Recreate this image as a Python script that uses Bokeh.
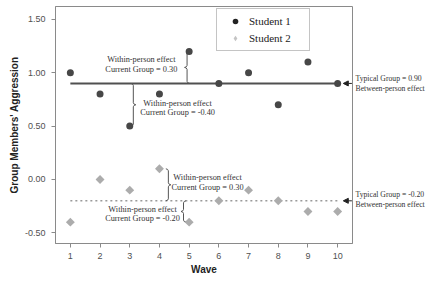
import numpy as np
from bokeh.plotting import figure
from bokeh.models import (Label, Arrow, NormalHead, Legend, LegendItem, Range1d, LinearAxis,
                          FixedTicker, NumeralTickFormatter, CustomJSTickFormatter)
from bokeh.embed import file_html
from bokeh.resources import INLINE

# ---- data ----
waves = [1, 2, 3, 4, 5, 6, 7, 8, 9, 10]
student1 = [1.00, 0.80, 0.50, 0.80, 1.20, 0.90, 1.00, 0.70, 1.10, 0.90]
student2 = [-0.40, 0.00, -0.10, 0.10, -0.40, -0.20, -0.10, -0.20, -0.30, -0.30]
series_names = ["Student 1", "Student 2"]
typical = [0.90, -0.20]
within_student = [0, 0, 1, 1]       # which student
within_wave = [5, 3, 4, 5]          # which wave
y_ticks = [-0.5, 0.0, 0.5, 1.0, 1.5]
x_ticks = waves

series = [student1, student2]

SERIF = "Liberation Serif"
SANS = "Liberation Sans"

px_x = 1 / 29.7
px_y = 1 / 106.7

p = figure(width=429, height=283,
           x_range=Range1d(0.5, 10.5), y_range=Range1d(-0.600, 1.621),
           output_backend="svg", toolbar_location=None,
           min_border_left=55, min_border_right=77, min_border_top=6, min_border_bottom=40)
p.background_fill_color = "white"
p.border_fill_color = "white"
p.outline_line_color = "#8a8a8a"
p.outline_line_width = 1
p.xgrid.visible = False
p.ygrid.visible = False

for ax in (p.xaxis[0], p.yaxis[0]):
    ax.axis_line_color = "#8a8a8a"
    ax.major_tick_line_color = "#8a8a8a"
    ax.major_tick_in = 0
    ax.major_tick_out = 4
    ax.minor_tick_line_color = None
    ax.major_label_text_font = SANS
    ax.major_label_text_font_size = "9px"
    ax.major_label_text_color = "#505050"
    ax.axis_label_text_font = SANS
    ax.axis_label_text_font_size = "10px"
    ax.axis_label_text_font_style = "bold"
    ax.axis_label_text_color = "#222222"

p.xaxis.ticker = FixedTicker(ticks=x_ticks)
p.yaxis.ticker = FixedTicker(ticks=y_ticks)
p.yaxis.formatter = NumeralTickFormatter(format="0.00")
p.xaxis.axis_label = "Wave"
p.yaxis.axis_label = "Group Members' Aggression"
p.xaxis.major_label_standoff = 5
p.xaxis.axis_label_standoff = 2
p.yaxis.major_label_standoff = 6
p.yaxis.axis_label_standoff = 2

# typical-group lines
p.line([waves[0], waves[-1]], [typical[0], typical[0]], line_color="#505050", line_width=2)
p.line([waves[0], waves[-1]], [typical[1], typical[1]], line_color="#9a9a9a", line_width=1.5,
       line_dash="2 3")

# small legend markers (hidden beneath the main markers)
leg1 = p.scatter(waves, student1, marker="circle", size=4, fill_color="#222222", line_color=None)
leg2 = p.scatter(waves, student2, marker="diamond", size=6,
                 fill_color="#c4c4c4", line_color=None)

# braces
brace_x = [4.93, 3.12, 4.30, 4.81]
brace_dir = [-1, 1, 1, -1]
for k in range(len(within_wave)):
    s = within_student[k]
    w = within_wave[k]
    yv = series[s][waves.index(w)]
    ym = typical[s]
    lo, hi = min(yv, ym), max(yv, ym)
    mid = (lo + hi) / 2
    bx = brace_x[k]
    d = brace_dir[k]
    h = 2.5
    xs = [bx - d * h * px_x, bx - d * 0.8 * px_x, bx, bx, bx + d * 0.8 * px_x, bx + d * h * px_x,
          bx + d * 0.8 * px_x, bx, bx, bx - d * 0.8 * px_x, bx - d * h * px_x]
    ys = [hi, hi - 0.6 * px_y, hi - 2 * px_y, mid + 2 * px_y, mid + 0.6 * px_y, mid,
          mid - 0.6 * px_y, mid - 2 * px_y, lo + 2 * px_y, lo + 0.6 * px_y, lo]
    p.line(xs, ys, line_color="#555555", line_width=1)

# main markers
r1 = p.scatter(waves, student1, marker="circle", size=7, fill_color="#474747", line_color=None)
r2 = p.scatter(waves, student2, marker="square", angle=np.pi / 4, size=6.3,
               fill_color="#acacac", line_color=None)

# within-person texts
text_x = [3.39, 4.61, 5.62, 3.43]
text_y1 = [1.12, 0.71, 0.02, -0.28]
text_y2 = [1.035, 0.63, -0.075, -0.37]
for k in range(len(within_wave)):
    s = within_student[k]
    w = within_wave[k]
    dev = series[s][waves.index(w)] - typical[s]
    for txt, yy in (("Within-person effect", text_y1[k]),
                    ("Current Group = %.2f" % dev, text_y2[k])):
        p.add_layout(Label(x=text_x[k], y=yy, text=txt, text_font=SERIF, text_font_size="8.3px",
                           text_color="#333333", text_align="center", text_baseline="middle"))

# between-person arrows
for s in range(2):
    p.add_layout(Arrow(x_start=10.48, y_start=typical[s], x_end=10.19, y_end=typical[s],
                       line_color="#222222", line_width=1,
                       end=NormalHead(size=5, fill_color="#222222", line_color="#222222")))

# between-person texts as labels of a bare right-hand axis
side_pos = []
side_txt = []
for s in range(2):
    side_pos += [typical[s] + [0.047, 0.06][s], typical[s] + [-0.047, -0.034][s]]
    side_txt += ["Typical Group = %.2f" % typical[s], "Between-person effect"]
order = np.argsort(side_pos)
side_pos = [float(side_pos[i]) for i in order]
side_txt = [side_txt[i] for i in order]
rax = LinearAxis(ticker=FixedTicker(ticks=side_pos),
                 formatter=CustomJSTickFormatter(args=dict(labels=side_txt),
                                                 code="return labels[index]"))
rax.axis_line_color = None
rax.major_tick_line_color = None
rax.minor_tick_line_color = None
rax.major_tick_in = 0
rax.major_tick_out = 0
rax.major_label_standoff = 3
rax.major_label_text_font = SERIF
rax.major_label_text_font_size = "7.7px"
rax.major_label_text_color = "#333333"
p.add_layout(rax, "right")

legend = Legend(items=[LegendItem(label=series_names[0], renderers=[leg1]),
                       LegendItem(label=series_names[1], renderers=[leg2])],
                location=(161, 192))
legend.label_text_font = SERIF
legend.label_text_font_size = "11px"
legend.label_text_color = "#222222"
legend.border_line_color = "#8a8a8a"
legend.border_line_width = 1
legend.background_fill_color = "white"
legend.background_fill_alpha = 1
legend.padding = 5
legend.margin = 0
legend.spacing = 3
legend.glyph_width = 26
legend.glyph_height = 14
legend.label_height = 14
legend.label_width = 55
legend.label_standoff = 1
p.add_layout(legend, "center")

open("out.html", "w").write(file_html(p, INLINE))
